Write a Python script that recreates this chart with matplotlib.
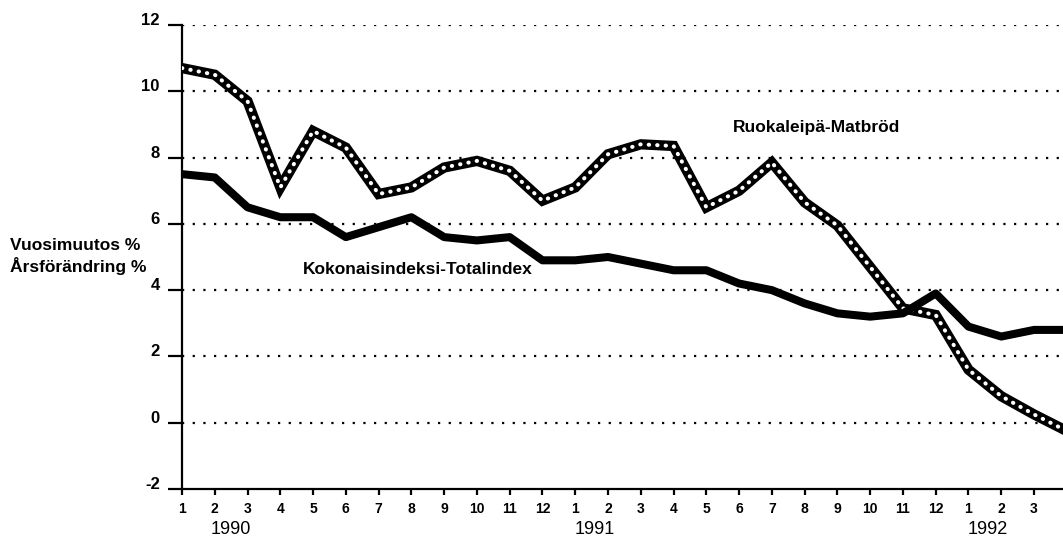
"""Vuosimuutos: ruokaleipä vs. kokonaisindeksi 1990-1992"""

import matplotlib
matplotlib.use("Agg")
import matplotlib.pyplot as plt
import numpy as np

# kuukaudet 1/1990 - 4/1992
months = [1, 2, 3, 4, 5, 6, 7, 8, 9, 10, 11, 12,
          1, 2, 3, 4, 5, 6, 7, 8, 9, 10, 11, 12,
          1, 2, 3, 4]
years = ["1990", "1991", "1992"]
year_pos = [1.5, 12.6, 24.6]

total_index = [7.5, 7.4, 6.5, 6.2, 6.2, 5.6, 5.9, 6.2, 5.6, 5.5, 5.6, 4.9,
               4.9, 5.0, 4.8, 4.6, 4.6, 4.2, 4.0, 3.6, 3.3, 3.2, 3.3, 3.9,
               2.9, 2.6, 2.8, 2.8]
bread = [10.7, 10.5, 9.7, 7.1, 8.8, 8.3, 6.9, 7.1, 7.7, 7.9, 7.6, 6.7,
         7.1, 8.1, 8.4, 8.35, 6.5, 7.0, 7.85, 6.65, 5.95, 4.7, 3.45, 3.25,
         1.6, 0.8, 0.25, -0.25]

yticks = [-2, 0, 2, 4, 6, 8, 10, 12]

plt.rcParams["font.family"] = ["Liberation Sans", "DejaVu Sans"]

fig = plt.figure(figsize=(10.63, 5.42), dpi=100)
ax = fig.add_axes([182 / 1063, 1 - 489 / 542, 1 - 182 / 1063, (489 - 25) / 542])

x = np.arange(len(months))

# ruokaleipä: musta reuna + valkoiset pisteet
ax.plot(x, bread, color="black", lw=7.4, solid_joinstyle="miter", zorder=3)
ax.plot(x, bread, color="white", lw=2.9, linestyle=(0, (0.1, 2.0)),
        dash_capstyle="round", zorder=4)
ax.plot(x, total_index, color="black", lw=5.8, solid_joinstyle="round", zorder=5)

for yv in yticks[1:]:
    ax.axhline(yv, color="black", lw=1.6, linestyle=(0, (1, 3.8)), zorder=1)

ax.set_xlim(0, (1063 - 182) / 32.77)
ax.set_ylim(-2, 12)

# viimeinen kuukausi (4/1992) jää kuvan reunan ulkopuolelle
shown = x[:27]
ax.set_yticks(yticks)
ax.set_yticklabels([str(v) for v in yticks], fontsize=12, fontweight="bold")
ax.set_xticks(shown)
ax.set_xticklabels([str(months[i]) for i in shown], fontsize=10, fontweight="bold")
plt.setp(ax.get_yticklabels(), va="baseline")

ax.tick_params(axis="y", direction="out", length=10, width=1.6, pad=6)
ax.tick_params(axis="x", direction="out", length=4.5, width=1.6, pad=5)

for side in ["top", "right"]:
    ax.spines[side].set_visible(False)
for side in ["left", "bottom"]:
    ax.spines[side].set_linewidth(1.6)

trans = ax.get_xaxis_transform()
for yr, pos in zip(years, year_pos):
    ax.text(pos, -0.088, yr, transform=trans, ha="center", va="center",
            fontsize=13, clip_on=False)

ax.text(3.69, 4.5, "Kokonaisindeksi-Totalindex", fontsize=12.5,
        fontweight="bold", ha="left", va="baseline", zorder=6)
ax.text(16.81, 8.76, "Ruokaleipä-Matbröd", fontsize=12.5,
        fontweight="bold", ha="left", va="baseline", zorder=6)

fig.text(10 / 1063, 1 - 250 / 542, "Vuosimuutos %", fontsize=12.5,
         fontweight="bold", ha="left", va="baseline")
fig.text(10 / 1063, 1 - 272 / 542, "Årsförändring %", fontsize=12.5,
         fontweight="bold", ha="left", va="baseline")

fig.savefig("out.png", dpi=100, facecolor="w")
